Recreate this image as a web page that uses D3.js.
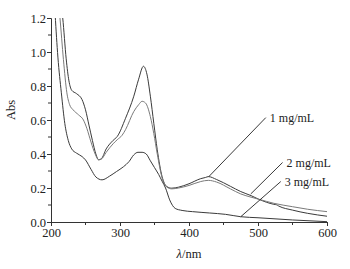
<!DOCTYPE html>
<html>
<head>
<meta charset="utf-8">
<script src="https://cdn.jsdelivr.net/npm/d3@7"></script>
<style>
  body { margin: 0; background: #fff; }
  svg { display: block; font-family: "Liberation Serif", "Times New Roman", serif; }
</style>
</head>
<body>
<svg id="chart" width="350" height="269"></svg>
<script>
// wavelength (nm) / absorbance pairs
const wave1 = [212, 217, 222, 226, 230, 237, 245, 250, 255, 260, 265, 269, 273, 280, 290, 296, 308, 320, 327, 334, 339, 344, 349, 354, 361, 368, 375, 385, 400, 417, 424, 428, 440, 460, 475, 490, 501, 523, 527, 530, 550, 572, 600];
const abs1  = [1.35, 1.2, 0.96, 0.83, 0.775, 0.755, 0.72, 0.66, 0.57, 0.48, 0.4, 0.366, 0.372, 0.43, 0.48, 0.503, 0.61, 0.74, 0.84, 0.916, 0.87, 0.74, 0.58, 0.425, 0.267, 0.208, 0.199, 0.205, 0.225, 0.255, 0.262, 0.267, 0.25, 0.21, 0.179, 0.155, 0.134, 0.104, 0.101, 0.094, 0.07, 0.051, 0.034];

const wave2 = [208, 213, 218, 223, 227, 232, 240, 247, 252, 258, 264, 269, 273, 280, 290, 296, 303, 308, 320, 327, 332, 337, 344, 349, 354, 361, 368, 375, 385, 400, 417, 428, 440, 460, 475, 490, 501, 523, 550, 572, 600];
const abs2  = [1.4, 1.2, 0.956, 0.76, 0.69, 0.66, 0.63, 0.6, 0.55, 0.47, 0.4, 0.366, 0.37, 0.41, 0.46, 0.484, 0.51, 0.543, 0.65, 0.69, 0.71, 0.7, 0.62, 0.52, 0.4, 0.26, 0.205, 0.195, 0.2, 0.215, 0.238, 0.245, 0.235, 0.195, 0.165, 0.146, 0.134, 0.11, 0.09, 0.075, 0.061];

const wave3 = [203, 206, 210, 215, 220, 225, 230, 237, 245, 250, 258, 265, 274, 285, 295, 305, 313, 320, 326, 332, 338, 344, 350, 356, 361, 366, 372, 380, 390, 405, 430, 453, 475, 500, 550, 600];
const abs3  = [1.45, 1.22, 0.97, 0.76, 0.58, 0.48, 0.43, 0.405, 0.385, 0.365, 0.31, 0.265, 0.248, 0.27, 0.297, 0.325, 0.355, 0.395, 0.41, 0.41, 0.4, 0.36, 0.32, 0.28, 0.24, 0.2, 0.13, 0.08, 0.068, 0.061, 0.053, 0.045, 0.031, 0.025, 0.012, 0.002];

const seriesColors = ["#3a3a3a", "#7a7a7a", "#3a3a3a"];

// labels: [text, anchor nm, anchor abs, elbow nm, elbow abs]
const labelText = ["1 mg/mL", "2 mg/mL", "3 mg/mL"];
const labelFrom = [[428.5, 0.266], [489.5, 0.165], [475, 0.031]];
const labelTo   = [[511.3, 0.614], [535.6, 0.35], [533, 0.238]];

const xTicks = [200, 300, 400, 500, 600];
const yTicks = [0.0, 0.2, 0.4, 0.6, 0.8, 1.0, 1.2];

const svg = d3.select("#chart");
const margin = { left: 51, right: 23, top: 18, bottom: 47 };
const width = 350, height = 269;

const x = d3.scaleLinear().domain([200, 600]).range([margin.left, width - margin.right]);
const y = d3.scaleLinear().domain([0, 1.2]).range([height - margin.bottom, margin.top]);

svg.append("defs").append("clipPath").attr("id", "cut-off")
  .append("rect")
  .attr("x", margin.left).attr("y", margin.top)
  .attr("width", x(600) - margin.left).attr("height", y(0) - margin.top);

// minor ticks
const minorX = d3.range(250, 600, 100);
const minorY = d3.range(0.1, 1.2, 0.2);

const xAxisG = svg.append("g").attr("transform", `translate(0,${y(0)})`);
xAxisG.call(d3.axisBottom(x).tickValues(xTicks).tickFormat(d3.format("d")).tickSizeOuter(0).tickSize(4).tickPadding(2));
xAxisG.selectAll(".minor").data(minorX).join("line")
  .attr("class", "minor")
  .attr("x1", d => x(d)).attr("x2", d => x(d))
  .attr("y1", 0).attr("y2", 3)
  .attr("stroke", "#333");

const yAxisG = svg.append("g").attr("transform", `translate(${x(200)},0)`);
yAxisG.call(d3.axisLeft(y).tickValues(yTicks).tickFormat(d3.format(".1f")).tickSizeOuter(0).tickSize(4).tickPadding(1));
yAxisG.selectAll(".minor").data(minorY).join("line")
  .attr("class", "minor")
  .attr("x1", 0).attr("x2", -3)
  .attr("y1", d => y(d)).attr("y2", d => y(d))
  .attr("stroke", "#333");

svg.selectAll(".domain, .tick line").attr("stroke", "#333");
svg.selectAll(".tick text")
  .attr("font-family", "Liberation Serif, serif")
  .attr("font-size", 12.5)
  .attr("fill", "#222");

// axis titles
svg.append("text")
  .attr("x", (x(200) + x(600)) / 2)
  .attr("y", 258)
  .attr("text-anchor", "middle")
  .attr("font-size", 12.5)
  .attr("fill", "#222")
  .html('<tspan font-style="italic">λ</tspan>/nm');

svg.append("text")
  .attr("transform", "translate(15,110) rotate(-90)")
  .attr("text-anchor", "middle")
  .attr("font-size", 12.5)
  .attr("fill", "#222")
  .text("Abs");

// spectra
const spectra = [
  wave1.map((w, i) => [w, abs1[i]]),
  wave2.map((w, i) => [w, abs2[i]]),
  wave3.map((w, i) => [w, abs3[i]])
];

const line = d3.line()
  .x(d => x(d[0]))
  .y(d => y(d[1]))
  .curve(d3.curveMonotoneX);

svg.append("g").attr("clip-path", "url(#cut-off)")
  .selectAll("path")
  .data(spectra)
  .join("path")
  .attr("fill", "none")
  .attr("stroke", (d, i) => seriesColors[i])
  .attr("stroke-width", 1)
  .attr("d", line);

// leaders and labels
const notes = svg.append("g");
labelText.forEach((t, i) => {
  notes.append("line")
    .attr("x1", x(labelFrom[i][0])).attr("y1", y(labelFrom[i][1]))
    .attr("x2", x(labelTo[i][0])).attr("y2", y(labelTo[i][1]))
    .attr("stroke", "#222")
    .attr("stroke-width", 0.9);
  notes.append("text")
    .attr("x", x(labelTo[i][0]) + 4)
    .attr("y", y(labelTo[i][1]) + 4)
    .attr("font-size", 12)
    .attr("fill", "#222")
    .text(t);
});
</script>
</body>
</html>
